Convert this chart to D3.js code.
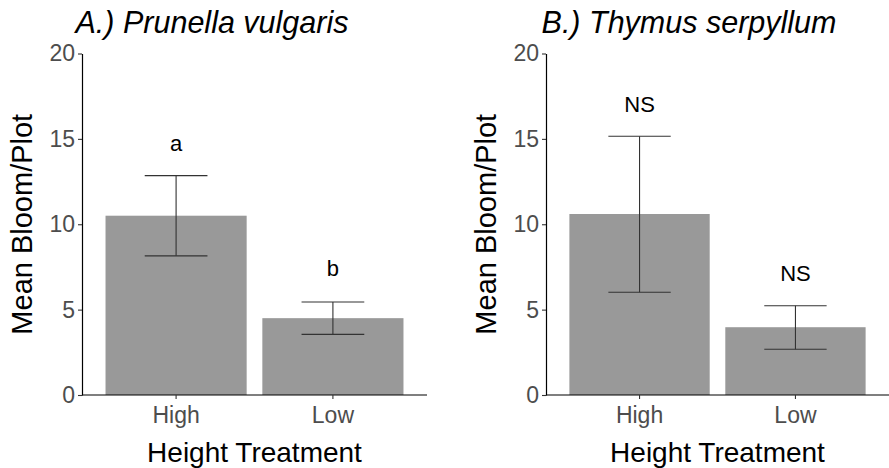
<!DOCTYPE html>
<html><head><meta charset="utf-8">
<script src="https://cdn.jsdelivr.net/npm/d3@7"></script>
<style>body{margin:0;background:#fff}svg{display:block;font-family:"Liberation Sans",Arial,sans-serif}</style>
</head><body><svg id="c" width="889" height="468"></svg>
<script>
const categories = ["High", "Low"];
const yTicks = [0, 5, 10, 15, 20];
const titles = ["A.) Prunella vulgaris", "B.) Thymus serpyllum"];
const meanA = [10.5, 4.5];
const upperA = [12.85, 5.45];
const lowerA = [8.15, 3.55];
const labelsA = ["a", "b"];
const labelYA = [14.3, 6.95];
const meanB = [10.6, 3.97];
const upperB = [15.15, 5.23];
const lowerB = [6.02, 2.68];
const labelsB = ["NS", "NS"];
const labelYB = [16.55, 6.65];
const xTitle = "Height Treatment";
const yTitle = "Mean Bloom/Plot";

const panels = [
  {title: titles[0], mean: meanA, upper: upperA, lower: lowerA, labels: labelsA, labelY: labelYA, x0: 82, x1: 427, titleX: 212},
  {title: titles[1], mean: meanB, upper: upperB, lower: lowerB, labels: labelsB, labelY: labelYB, x0: 546, x1: 889, titleX: 689}
];

const svg = d3.select("#c");
const y = d3.scaleLinear().domain([0, 20]).range([395, 53.5]);

panels.forEach(p => {
  const g = svg.append("g");
  const xc = d3.scaleLinear().domain([0.4, 2.6]).range([p.x0, p.x1]);
  const pos = i => xc(i + 1);
  const barW = xc(0.9) - xc(0);
  const capW = xc(0.4) - xc(0);

  g.selectAll("rect.bar").data(p.mean).join("rect")
    .attr("x", (d, i) => pos(i) - barW / 2)
    .attr("width", barW)
    .attr("y", d => y(d))
    .attr("height", d => y(0) - y(d))
    .attr("fill", "#999999");

  const eb = g.selectAll("g.eb").data(p.mean).join("g").attr("stroke", "#333").attr("stroke-width", 1.1);
  eb.append("line").attr("x1", (d, i) => pos(i)).attr("x2", (d, i) => pos(i))
    .attr("y1", (d, i) => y(p.upper[i])).attr("y2", (d, i) => y(p.lower[i]));
  eb.append("line").attr("x1", (d, i) => pos(i) - capW / 2).attr("x2", (d, i) => pos(i) + capW / 2)
    .attr("y1", (d, i) => y(p.upper[i])).attr("y2", (d, i) => y(p.upper[i]));
  eb.append("line").attr("x1", (d, i) => pos(i) - capW / 2).attr("x2", (d, i) => pos(i) + capW / 2)
    .attr("y1", (d, i) => y(p.lower[i])).attr("y2", (d, i) => y(p.lower[i]));

  g.selectAll("text.lab").data(p.labels).join("text")
    .attr("x", (d, i) => pos(i)).attr("y", (d, i) => y(p.labelY[i]))
    .attr("text-anchor", "middle").attr("font-size", 22).attr("fill", "#000").text(d => d);

  const ya = g.append("g").attr("transform", `translate(${p.x0},0)`)
    .call(d3.axisLeft(y).tickValues(yTicks).tickSize(4).tickPadding(3).tickSizeOuter(0));
  ya.select(".domain").attr("stroke", "#000").attr("stroke-width", 1.2);
  ya.selectAll(".tick line").attr("stroke", "#333").attr("stroke-width", 1.1);
  ya.selectAll(".tick text").attr("font-size", 23).attr("fill", "#4d4d4d").attr("font-family", "Liberation Sans, Arial, sans-serif");

  const xa = g.append("g").attr("transform", `translate(0,${y(0)})`);
  xa.append("line").attr("x1", p.x0).attr("x2", p.x1).attr("stroke", "#000").attr("stroke-width", 1.2);
  xa.selectAll("line.t").data(categories).join("line").attr("class", "t")
    .attr("x1", (d, i) => pos(i)).attr("x2", (d, i) => pos(i)).attr("y1", 0).attr("y2", 4)
    .attr("stroke", "#333").attr("stroke-width", 1.1);
  xa.selectAll("text").data(categories).join("text")
    .attr("x", (d, i) => pos(i)).attr("y", 28).attr("text-anchor", "middle")
    .attr("font-size", 23).attr("fill", "#4d4d4d").text(d => d);

  g.append("text").attr("x", (p.x0 + p.x1) / 2).attr("y", 461.5).attr("text-anchor", "middle")
    .attr("font-size", 28).attr("fill", "#000").text(xTitle);
  g.append("text").attr("transform", `translate(${p.x0 - 50},${(y(0) + y(20)) / 2}) rotate(-90)`)
    .attr("text-anchor", "middle").attr("font-size", 29).attr("fill", "#000").text(yTitle);
  g.append("text").attr("x", p.titleX).attr("y", 33).attr("text-anchor", "middle")
    .attr("font-size", 30.5).attr("font-style", "italic").attr("fill", "#000").text(p.title);
});
</script></body></html>
